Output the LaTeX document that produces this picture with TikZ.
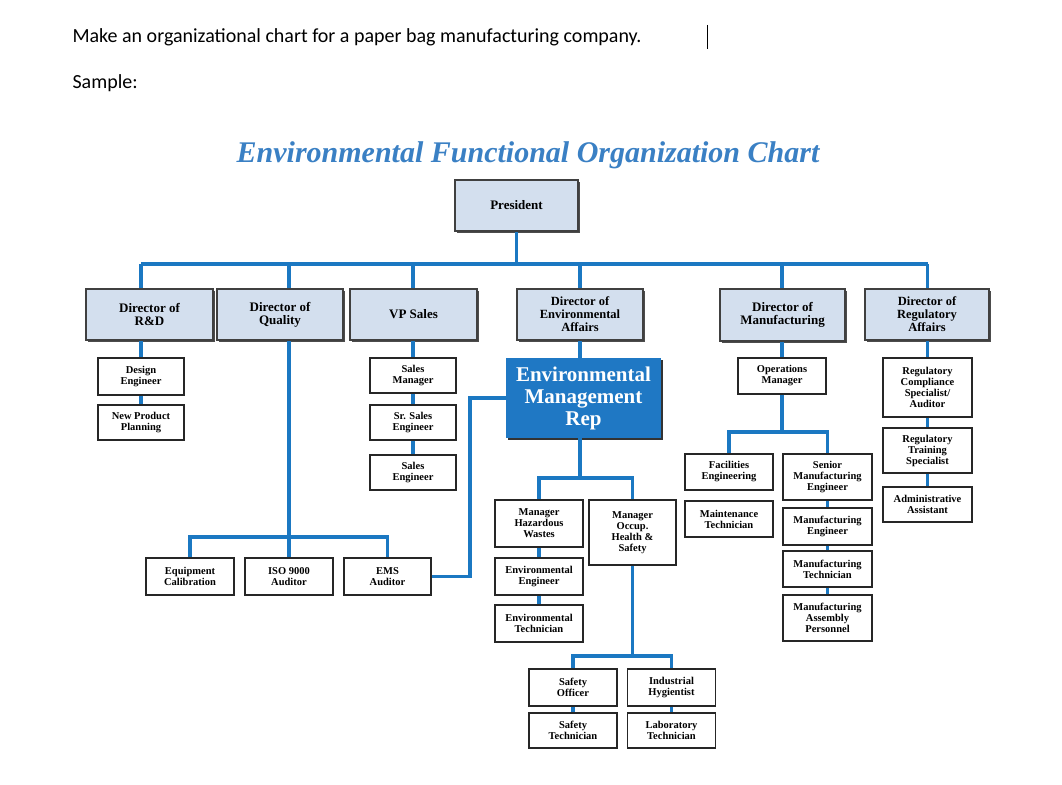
\documentclass[tikz,border=0pt]{standalone}
\usepackage{fontspec}
\setmainfont{Liberation Serif}
\newfontfamily\hdr{Carlito}
\usetikzlibrary{shadows}
\definecolor{lnblue}{HTML}{1B78C2}
\definecolor{boxblue}{HTML}{D3DFEE}
\definecolor{repblue}{HTML}{1F78C4}
\definecolor{ttlblue}{HTML}{3A80C4}
\tikzset{
  conn/.style={draw=lnblue, line width=3.5pt},
  dir/.style={draw=black!75, line width=1.6pt, fill=boxblue, align=center, inner sep=0pt,
    font=\bfseries\fontsize{13}{13}\selectfont,
    drop shadow={shadow xshift=1.5pt, shadow yshift=-1.5pt, fill=black!70, opacity=1}},
  sub/.style={draw=black!85, line width=1.3pt, fill=white, align=center, inner sep=0pt, minimum width=88pt,
    font=\bfseries\fontsize{10.5}{11}\selectfont},
  rep/.style={fill=repblue, text=white, align=center, inner sep=0pt,
    font=\bfseries\fontsize{21}{22}\selectfont,
    drop shadow={shadow xshift=2pt, shadow yshift=-2pt, fill=black!80, opacity=1}},
}
\begin{document}
\begin{tikzpicture}[x=1pt,y=-1pt]
\useasboundingbox (0,0) rectangle (1062,784);
\fill[white] (0,0) rectangle (1062,784);
% header
\node[anchor=west, font=\hdr\fontsize{20}{24}\selectfont] (q) at (69,37) {Make an organizational chart for a paper bag manufacturing company.};
\draw[line width=0.8pt] (707,25) -- (707,49);
\node[anchor=west, font=\hdr\fontsize{20}{24}\selectfont] (s) at (69,83) {Sample:};
\node[font=\bfseries\itshape\fontsize{30}{32}\selectfont, text=ttlblue] (title) at (528,155) {Environmental Functional Organization Chart};
% directors
\node[dir, minimum width=123pt, minimum height=51pt] (pres) at (516.5,205.5) {President};
\node[dir, minimum width=127pt, minimum height=51pt] (rd) at (149.5,314.5) {Director of\\R\&D};
\node[dir, minimum width=126pt, minimum height=51pt] (qual) at (280,314.5) {Director of\\Quality};
\node[dir, minimum width=127pt, minimum height=51pt] (vps) at (413.5,314.5) {VP Sales};
\node[dir, minimum width=126pt, minimum height=51pt, font=\bfseries\fontsize{12.5}{13}\selectfont] (dea) at (580,314.5) {Director of\\Environmental\\Affairs};
\node[dir, minimum width=125pt, minimum height=52pt] (dmf) at (782.5,315) {Director of\\Manufacturing};
\node[dir, minimum width=124pt, minimum height=51pt, font=\bfseries\fontsize{12.5}{13}\selectfont] (drg) at (927,314.5) {Director of\\Regulatory\\Affairs};
% R&D
\node[sub, minimum width=86pt, minimum height=37pt] (des) at (141,376.5) {Design\\Engineer};
\node[sub, minimum width=86pt, minimum height=35pt] (npp) at (141,422.5) {New Product\\Planning};
% Sales
\node[sub, minimum width=86pt, minimum height=35pt] (sm) at (413,375.5) {Sales\\Manager};
\node[sub, minimum width=86pt, minimum height=35pt] (sse) at (413,422.5) {Sr. Sales\\Engineer};
\node[sub, minimum width=86pt, minimum height=35pt] (se) at (413,472.5) {Sales\\Engineer};
% Quality
\node[sub, minimum height=37pt] (eq) at (190,576.5) {Equipment\\Calibration};
\node[sub, minimum height=37pt] (iso) at (289,576.5) {ISO 9000\\Auditor};
\node[sub, minimum width=87pt, minimum height=37pt] (ems) at (387.5,576.5) {EMS\\Auditor};
% Env
\node[rep, minimum width=155pt, minimum height=80pt] (emr) at (583.5,398) {Environmental\\Management\\Rep};
\node[sub, minimum height=47pt] (mhw) at (539,523.5) {Manager\\Hazardous\\Wastes};
\node[sub, minimum width=87pt, minimum height=65pt] (moh) at (632.5,532.5) {Manager\\Occup.\\Health \&\\Safety};
\node[sub, minimum height=37pt] (eeng) at (539,576.5) {Environmental\\Engineer};
\node[sub, minimum height=37pt] (etec) at (539,623.5) {Environmental\\Technician};
\node[sub, minimum height=37pt] (so) at (573,687.5) {Safety\\Officer};
\node[sub, minimum height=37pt] (ih) at (671.5,687.5) {Industrial\\Hygientist};
\node[sub, minimum height=35pt] (st) at (573,730.5) {Safety\\Technician};
\node[sub, minimum height=35pt] (lt) at (671.5,730.5) {Laboratory\\Technician};
% Manufacturing
\node[sub, minimum height=36pt] (ops) at (782,376) {Operations\\Manager};
\node[sub, minimum height=36pt] (fac) at (729,472) {Facilities\\Engineering};
\node[sub, minimum height=36pt] (mnt) at (729,519) {Maintenance\\Technician};
\node[sub, minimum width=89pt, minimum height=46pt] (sme) at (827.5,477) {Senior\\Manufacturing\\Engineer};
\node[sub, minimum width=89pt, minimum height=37pt] (me) at (827.5,526.5) {Manufacturing\\Engineer};
\node[sub, minimum width=89pt, minimum height=36pt] (mt) at (827.5,569) {Manufacturing\\Technician};
\node[sub, minimum width=89pt, minimum height=46pt] (map) at (827.5,618) {Manufacturing\\Assembly\\Personnel};
% Regulatory
\node[sub, minimum width=89pt, minimum height=59pt] (rcs) at (927.5,387.5) {Regulatory\\Compliance\\Specialist/\\Auditor};
\node[sub, minimum width=89pt, minimum height=45pt] (rts) at (927.5,450.5) {Regulatory\\Training\\Specialist};
\node[sub, minimum width=89pt, minimum height=35pt] (aa) at (927.5,504.5) {Administrative\\Assistant};

% connectors (drawn behind)
\begin{scope}[on background layer/.style={}]
\coordinate (bus) at (0,264);
\coordinate (qb) at (0,537);
\coordinate (eb) at (0,478);
\coordinate (ob) at (0,656);
\coordinate (mb) at (0,432);
\coordinate (ex) at (470,0);
\end{scope}
\draw[conn] (pres.south) -- (pres.south |- bus);
\draw[conn] (des.north |- bus) -- (rcs.north |- bus);
\draw[conn] (des.north |- bus) -- (des.north |- rd.north);
\draw[conn] (iso.north |- bus) -- (iso.north |- qual.north);
\draw[conn] (sm.north |- bus) -- (sm.north |- vps.north);
\draw[conn] (dea.north |- bus) -- (dea.north);
\draw[conn] (ops.north |- bus) -- (ops.north |- dmf.north);
\draw[conn] (rcs.north |- bus) -- (rcs.north |- drg.north);
% R&D chain
\draw[conn] (des.north |- rd.south) -- (des.north);
\draw[conn] (des.south) -- (npp.north);
% sales chain
\draw[conn] (sm.north |- vps.south) -- (sm.north);
\draw[conn] (sm.south) -- (sse.north);
\draw[conn] (sse.south) -- (se.north);
% quality
\draw[conn] (iso.north |- qual.south) -- (iso.north);
\draw[conn] (eq.north) -- (eq.north |- qb) -- (ems.north |- qb) -- (ems.north);
\draw[conn] (ems.east) -- (ex |- ems.east) -- (ex |- emr.west) -- (emr.west);
% env
\draw[conn] (emr.north -| dea.south) -- (dea.south);
\draw[conn] (emr.south -| dea.south) -- (dea.south |- eb);
\draw[conn] (mhw.north) -- (mhw.north |- eb) -- (moh.north |- eb) -- (moh.north);
\draw[conn] (mhw.south) -- (eeng.north);
\draw[conn] (eeng.south) -- (etec.north);
\draw[conn] (moh.south) -- (moh.south |- ob);
\draw[conn] (so.north) -- (so.north |- ob) -- (ih.north |- ob) -- (ih.north);
\draw[conn] (so.south) -- (st.north);
\draw[conn] (ih.south) -- (lt.north);
% manufacturing
\draw[conn] (ops.north |- dmf.south) -- (ops.north);
\draw[conn] (ops.south) -- (ops.south |- mb);
\draw[conn] (fac.north) -- (fac.north |- mb) -- (sme.north |- mb) -- (sme.north);
\draw[conn] (sme.south) -- (me.north);
\draw[conn] (me.south) -- (mt.north);
\draw[conn] (mt.south) -- (map.north);
% regulatory
\draw[conn] (rcs.north |- drg.south) -- (rcs.north);
\draw[conn] (rcs.south) -- (rts.north);
\draw[conn] (rts.south) -- (aa.north);
\end{tikzpicture}
\end{document}
